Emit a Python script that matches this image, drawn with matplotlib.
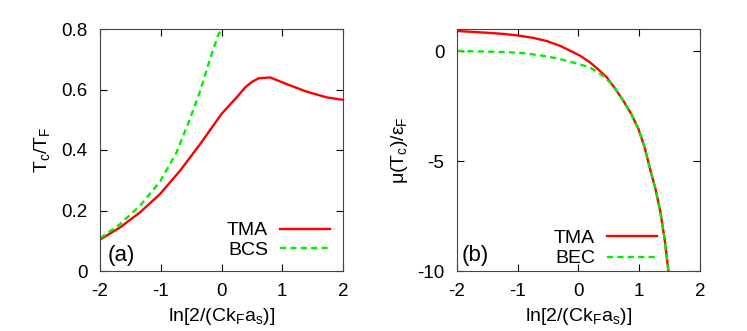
import numpy as np
import matplotlib.pyplot as plt

plt.rcParams['font.family'] = ['Liberation Sans', 'DejaVu Sans']
plt.rcParams['mathtext.fontset'] = 'custom'
plt.rcParams['mathtext.rm'] = 'Liberation Sans'
plt.rcParams['mathtext.it'] = 'Liberation Sans:italic'
plt.rcParams['axes.unicode_minus'] = False
plt.rcParams['font.size'] = 13.5

# panel (a): Tc/TF vs ln[2/(C kF as)]
x_tma_a = [-2.0, -1.67, -1.34, -1.01, -0.68, -0.35, 0.0, 0.13, 0.25, 0.39, 0.5, 0.61, 0.80, 1.07, 1.40, 1.73, 2.0]
y_tma_a = [0.104, 0.144, 0.194, 0.255, 0.332, 0.420, 0.519, 0.548, 0.574, 0.607, 0.625, 0.637, 0.640, 0.618, 0.593, 0.574, 0.566]
x_bcs = [-2.0, -1.67, -1.34, -1.01, -0.74, -0.52, -0.35, -0.19, -0.05, 0.02]
y_bcs = [0.108, 0.155, 0.216, 0.296, 0.392, 0.502, 0.596, 0.70, 0.783, 0.80]

# panel (b): mu(Tc)/eF
x_tma_b = [-2.0, -1.51, -1.25, -1.01, -0.75, -0.52, -0.30, -0.13, 0.03, 0.195, 0.33, 0.47, 0.6,
           0.74, 0.87, 0.99, 1.09, 1.18, 1.27, 1.35, 1.42, 1.48]
y_tma_b = [0.91, 0.83, 0.78, 0.71, 0.60, 0.45, 0.23, 0.0, -0.22, -0.53, -0.85, -1.21, -1.70,
           -2.27, -2.87, -3.56, -4.40, -5.38, -6.30, -7.35, -8.60, -10.0]
x_bec = [-2.0, -1.6, -1.18, -0.9, -0.63, -0.4, -0.19, 0.0, 0.195, 0.41, 0.58, 0.74, 0.87, 0.99,
         1.09, 1.18, 1.27, 1.35, 1.42, 1.48]
y_bec = [0.0, -0.02, -0.05, -0.10, -0.20, -0.31, -0.45, -0.59, -0.76, -1.14, -1.59, -2.27, -2.87,
         -3.56, -4.40, -5.38, -6.30, -7.35, -8.60, -10.0]

xlabel = 'ln[2/(Ck$_\\mathrm{F}$a$_\\mathrm{s}$)]'
red = '#ff0000'
green = '#00ee00'

fig = plt.figure(figsize=(7.47, 3.31), dpi=100)
ax1 = fig.add_axes([100/747, 60/331, 243/747, 242/331])
ax2 = fig.add_axes([457/747, 60/331, 243/747, 242/331])

ax1.plot(x_tma_a, y_tma_a, color=red, lw=1.7, label='TMA')
ax1.plot(x_bcs, y_bcs, color=green, lw=1.7, dashes=(2.6, 1.8), label='BCS')
ax1.set_xlim(-2, 2)
ax1.set_ylim(0, 0.8)
ax1.set_yticks([0, 0.2, 0.4, 0.6, 0.8])
ax1.set_yticklabels(['0', '0.2', '0.4', '0.6', '0.8'])
ax1.set_ylabel('T$_\\mathrm{c}$/T$_\\mathrm{F}$', fontsize=14, labelpad=7)
ax1.text(0.03, 0.04, '(a)', transform=ax1.transAxes, fontsize=16)

ax2.plot(x_tma_b, y_tma_b, color=red, lw=1.7, label='TMA')
ax2.plot(x_bec, y_bec, color=green, lw=1.7, dashes=(2.6, 1.8), label='BEC')
ax2.set_xlim(-2, 2)
ax2.set_ylim(-10, 1)
ax2.set_yticks([0, -5, -10])
ax2.set_ylabel('\u03bc(T$_\\mathrm{c}$)/\u03b5$_\\mathrm{F}$', fontsize=14, labelpad=5)
ax2.text(0.02, 0.04, '(b)', transform=ax2.transAxes, fontsize=16)

for ax in (ax1, ax2):
    ax.set_xticks([-2, -1, 0, 1, 2])
    ax.set_xlabel(xlabel, fontsize=14)
    ax.tick_params(direction='in', top=True, right=True, length=5, width=0.8, pad=9)
    for s in ax.spines.values():
        s.set_linewidth(0.8)
        s.set_color('#444444')

ax1.legend(loc='lower right', frameon=False, markerfirst=False, handlelength=2.6,
           handletextpad=0.6, labelspacing=0.1, borderpad=0, borderaxespad=0,
           bbox_to_anchor=(0.947, 0.05), fontsize=14)
ax2.legend(loc='lower right', frameon=False, markerfirst=False, handlelength=2.6,
           handletextpad=0.6, labelspacing=0.15, borderpad=0, borderaxespad=0,
           bbox_to_anchor=(0.824, 0.015), fontsize=14)

fig.savefig('out.png', dpi=100)
